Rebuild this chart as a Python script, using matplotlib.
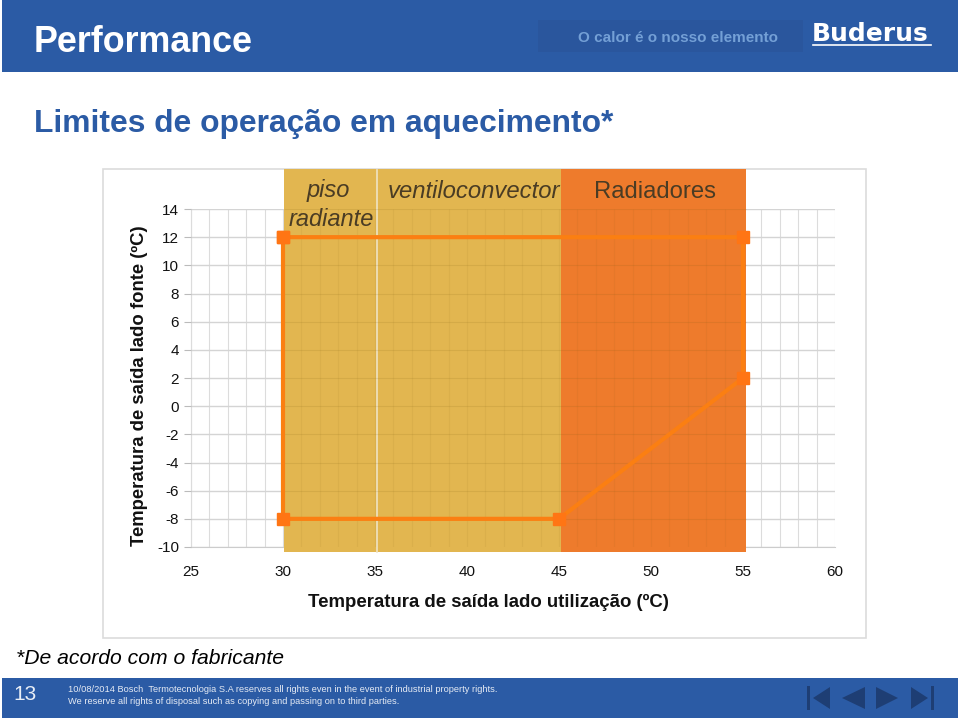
import matplotlib
matplotlib.use("Agg")
import matplotlib.pyplot as plt
from matplotlib.patches import Rectangle, Polygon
from matplotlib.lines import Line2D

plt.rcParams['font.family'] = ['Liberation Sans', 'DejaVu Sans']
plt.rcParams['axes.unicode_minus'] = False

# ---- data ----
limit_x = [30, 55, 55, 45, 30, 30]
limit_y = [12, 12, 2, -8, -8, 12]
band_edges = [30.05, 35.1, 45.1, 55.15]
band_names = ["piso\nradiante", "ventiloconvector", "Radiadores"]
band_colors = ["#E2B650", "#E2B650", "#EE7B2C"]
x_ticks = [25, 30, 35, 40, 45, 50, 55, 60]
y_ticks = [-10, -8, -6, -4, -2, 0, 2, 4, 6, 8, 10, 12, 14]
title_text = "Performance"
subtitle_text = "Limites de operação em aquecimento*"
x_label = "Temperatura de saída lado utilização (ºC)"
y_label = "Temperatura de saída lado fonte (ºC)"
footnote = "*De acordo com o fabricante"
tagline = "O calor é o nosso elemento"
brand = "Buderus"
page_no = "13"
legal = ["10/08/2014 Bosch  Termotecnologia S.A reserves all rights even in the event of industrial property rights.",
         "We reserve all rights of disposal such as copying and passing on to third parties."]

W, H = 960, 718
BLUE = "#2B5BA5"
fig = plt.figure(figsize=(W / 100, H / 100), dpi=100, facecolor="white")

# page furniture, in pixel coordinates
bg = fig.add_axes([0, 0, 1, 1], zorder=0)
bg.set_xlim(0, W); bg.set_ylim(H, 0); bg.axis("off")
bg.add_patch(Rectangle((2, 0), 956, 72, fc=BLUE, ec="none"))
bg.add_patch(Rectangle((538, 20), 265, 32, fc="#2A569D", ec="none"))
bg.add_patch(Rectangle((2, 678), 956, 40, fc=BLUE, ec="none"))
bg.add_patch(Rectangle((102.5, 168.5), 763, 469, fc="white", ec="#DCDCDC", lw=1.2))
bg.text(34, 43, title_text, color="white", fontsize=25.85, fontweight="bold", va="center", ha="left")
bg.text(34, 124, subtitle_text, color=BLUE, fontsize=22.9, fontweight="bold", va="center", ha="left")
bg.text(778, 38, tagline, color="#74A0D6", fontsize=11.0, fontweight="bold", va="center", ha="right")
bg.text(812, 34, brand, color="white", fontsize=18, fontweight="bold", va="center", ha="left",
        family=["DejaVu Sans"])
bg.add_line(Line2D([813, 931], [45, 45], color="white", lw=1.2))
bg.text(16, 659, footnote, color="black", fontsize=15.2, style="italic", va="center", ha="left")
bg.text(13, 694, page_no, color="#E8EEF6", fontsize=15, va="center", ha="left")
bg.text(68, 690, legal[0], color="#E4EAF4", fontsize=6.7, va="center", ha="left")
bg.text(68, 702, legal[1], color="#E4EAF4", fontsize=6.7, va="center", ha="left")
NAV = "#1E3E74"
for xy in ([(830, 687), (830, 709), (813, 698)], [(865, 687), (865, 709), (842, 698)],
           [(876, 687), (876, 709), (898, 698)], [(911, 687), (911, 709), (928, 698)]):
    bg.add_patch(Polygon(xy, fc=NAV, ec="none"))
bg.add_patch(Rectangle((807, 686), 3, 24, fc=NAV, ec="none"))
bg.add_patch(Rectangle((931, 686), 3, 24, fc=NAV, ec="none"))

# chart: x 25..60 -> 191..835 px, y -10..14 -> 547..209 px
ax = fig.add_axes([191 / W, 1 - 547 / H, (835 - 191) / W, (547 - 209) / H], zorder=1)
ax.patch.set_alpha(0)
ax.set_xlim(x_ticks[0], x_ticks[-1])
ax.set_ylim(y_ticks[0], y_ticks[-1])

ax.set_xticks(x_ticks)
ax.set_yticks(y_ticks)
ax.set_xticks(range(x_ticks[0], x_ticks[-1] + 1), minor=True)
ax.set_axisbelow(True)
ax.grid(which="major", axis="y", color="#D4D4D4", lw=1, zorder=0)
ax.grid(which="both", axis="x", color="#DCDCDC", lw=0.8, zorder=0)

for i, c in enumerate(band_colors):
    ax.axvspan(band_edges[i], band_edges[i + 1],
               ymin=-0.015, ymax=1.118, color=c, lw=0, zorder=1, clip_on=False)
ax.plot([band_edges[1]] * 2, [-10.35, 16.8], color="#EFE3C4", lw=1.2, zorder=2, clip_on=False)
ax.hlines(y_ticks[1:], band_edges[0], band_edges[-1], color="#7A5A10", alpha=0.13, lw=0.8, zorder=2)
ax.vlines(range(31, 55), y_ticks[0], y_ticks[-1], color="#7A5A10", alpha=0.07, lw=0.8, zorder=2)

ax.tick_params(which="minor", length=0)
ax.tick_params(axis="y", which="major", length=5, color="#BBBBBB", labelsize=11, pad=3.5, labelcolor="#111111")
ax.tick_params(axis="x", which="major", length=0, labelsize=11, pad=13, labelcolor="#111111")
for name, sp in ax.spines.items():
    sp.set_visible(name in ("left", "bottom"))
    sp.set_color("#CCCCCC")
    sp.set_zorder(0.5)

ax.plot(limit_x, limit_y, color="#FB7F12", lw=3.0, marker="s", ms=9, mfc="#FF7514", mec="#FF7514",
        solid_joinstyle="miter", zorder=5, clip_on=False)

TXT = "#4A3C24"
bg2 = fig.add_axes([0, 0, 1, 1], zorder=2)
bg2.set_xlim(0, W); bg2.set_ylim(H, 0); bg2.axis("off")
bg2.text(328, 191, "piso", color=TXT, fontsize=17, style="italic", ha="center", va="center")
bg2.text(331, 220, "radiante", color=TXT, fontsize=17, style="italic", ha="center", va="center")
bg2.text(474, 192, band_names[1], color=TXT, fontsize=17.2, style="italic", ha="center", va="center")
bg2.text(655, 192, band_names[2], color=TXT, fontsize=17.2, ha="center", va="center")
bg2.text(488, 602, x_label, color="#111111", fontsize=13.4, fontweight="bold", ha="center", va="center")
bg2.text(140, 386, y_label, color="#111111", fontsize=13.3, fontweight="bold", ha="center", va="center", rotation=90)

fig.savefig("out.png", dpi=100)
